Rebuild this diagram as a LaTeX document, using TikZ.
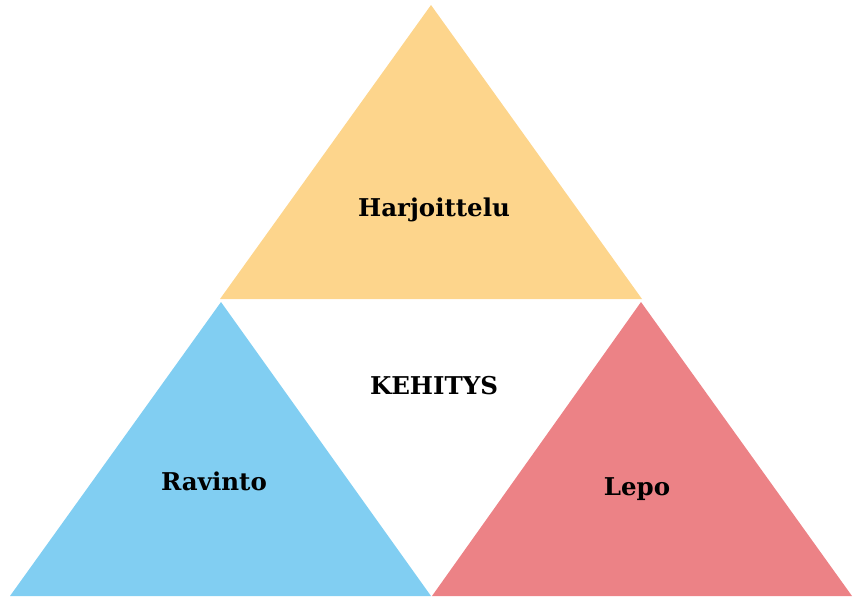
\documentclass[tikz,border=0pt]{standalone}
\usepackage{fontspec}
\setmainfont{DejaVu Serif}
\definecolor{cyellow}{RGB}{253,213,140}
\definecolor{cblue}{RGB}{129,206,242}
\definecolor{cred}{RGB}{236,130,134}
\begin{document}
\begin{tikzpicture}[x=1pt,y=-1pt,
  lab/.style={font=\bfseries\fontsize{24.5}{29}\selectfont, text=black, inner sep=0pt}]
\useasboundingbox (0,0) rectangle (856,598);
\fill[cyellow] (431,5) -- (642,299) -- (220,299) -- cycle;
\fill[cblue] (221,302) -- (431,596) -- (10,596) -- cycle;
\fill[cred] (641,302) -- (852,596) -- (432,596) -- cycle;
\node[lab] (h) at (434,210) {Harjoittelu};
\node[lab] (k) at (434,386) {KEHITYS};
\node[lab] (r) at (214,481) {Ravinto};
\node[lab] (l) at (637,489) {Lepo};
\end{tikzpicture}
\end{document}
